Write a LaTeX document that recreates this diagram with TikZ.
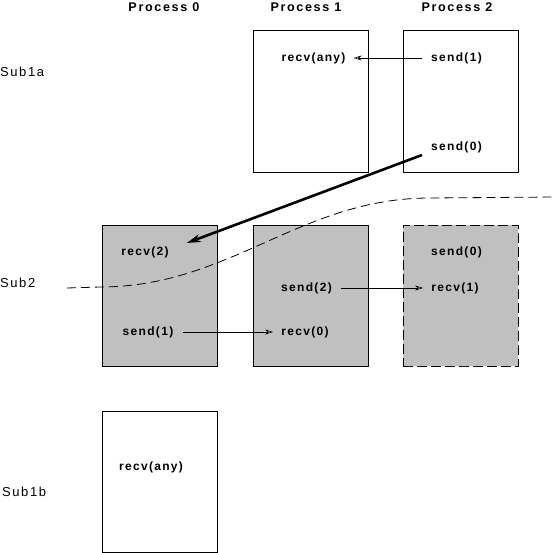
\documentclass[tikz,border=0pt]{standalone}
\usepackage{fontspec}
\setmainfont{Liberation Sans}
\usetikzlibrary{arrows.meta,calc}
\definecolor{boxgray}{RGB}{192,192,192}
\newfontfamily\hdfont[LetterSpace=13]{Liberation Sans Bold}
\newfontfamily\opfont[LetterSpace=11]{Liberation Sans Bold}
\newfontfamily\lbfont[LetterSpace=12]{Liberation Sans}
\tikzset{
  box/.style={draw=black, line width=0.8bp, minimum width=115bp, inner sep=0pt},
  tallbox/.style={box, minimum height=142bp},
  shadebox/.style={box, minimum height=141bp, fill=boxgray},
  hdr/.style={inner sep=0pt, font=\hdfont\fontsize{12.6bp}{14bp}\selectfont},
  op/.style={inner sep=0pt, font=\opfont\fontsize{12bp}{14bp}\selectfont},
  sublbl/.style={inner sep=0pt, anchor=west, font=\lbfont\fontsize{13bp}{15bp}\selectfont},
  msg/.style={line width=0.6bp, -{Stealth[open,length=8bp,width=5bp]}, shorten <=9bp, shorten >=8bp},
  bigmsg/.style={line width=2.6bp, -{Stealth[length=14bp,width=8bp]}},
  cut/.style={line width=0.8bp, dash pattern=on 9bp off 5bp}
}
\begin{document}
\begin{tikzpicture}[x=1bp,y=-1bp]
\useasboundingbox (0,0) rectangle (555,553);
% headers
\node[hdr] (h0) at (164,7) {Process 0};
\node[hdr] (h1) at (306,7) {Process 1};
\node[hdr] (h2) at (457,7) {Process 2};
% row labels
\node[sublbl] (l1a) at (0,72) {Sub1a};
\node[sublbl] (l2) at (0,283) {Sub2};
\node[sublbl] (l1b) at (2,492) {Sub1b};
% boxes
\node[tallbox] (b1a) at (310.5,101) {};
\node[tallbox] (b2a) at (460.5,101) {};
\node[shadebox] (b02) at (159.5,295.5) {};
\node[shadebox] (b12) at (310.5,295.5) {};
\node[shadebox, dash pattern=on 10bp off 4bp] (b22) at (460.5,295.5) {};
\node[box, minimum height=141bp] (b0b) at (159.5,481.5) {};
% operations
\node[op] (rany) at (313.5,58) {recv(any)};
\node[op] (s1a) at (456.5,58) {send(1)};
\node[op] (s0a) at (456.5,147) {send(0)};
\node[op] (r2) at (145,252) {recv(2)};
\node[op] (s1) at (148,332) {send(1)};
\node[op] (s2) at (306.5,288) {send(2)};
\node[op] (r0) at (305,332) {recv(0)};
\node[op] (s0b) at (456.5,252) {send(0)};
\node[op] (r1) at (455,288) {recv(1)};
\node[op] (ranyb) at (151,467) {recv(any)};
% messages
\draw[msg] (s1a.west) -- (rany.east);
\draw[msg] (s2.east) -- (r1.west);
\draw[msg] (s1.east) -- (r0.west);
\draw[bigmsg] ($(s0a.west)+(-9,8)$) -- ($(r2.east)+(18,-9)$);
% consistent cut
\coordinate (cutL) at (67,288);
\coordinate (cutR) at (555,197);
\draw[cut] (cutL) -- (100,287) .. controls (230,287) and (300,198) .. (430,198) -- (cutR);
\end{tikzpicture}
\end{document}
